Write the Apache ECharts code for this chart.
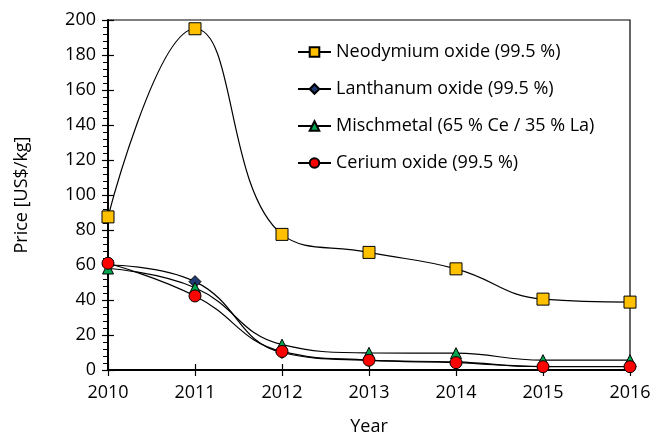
<!DOCTYPE html>
<html>
<head>
<meta charset="utf-8">
<script src="https://cdn.jsdelivr.net/npm/echarts@6/dist/echarts.min.js"></script>
<style>
  html, body { margin: 0; padding: 0; background: #fff; }
  #chart { width: 653px; height: 434px; }
</style>
</head>
<body>
<div id="chart"></div>
<script>
// values
var years = ['2010', '2011', '2012', '2013', '2014', '2015', '2016'];
var neodymium = [87.5, 195, 77.5, 67.2, 57.8, 40.5, 38.8];
var lanthanum = [60, 50.5, 10, 5.5, 4.6, 2, 2];
var mischmetal = [58, 47, 14.5, 9.8, 9.6, 5.6, 5.6];
var cerium = [61, 42.3, 10.6, 5.6, 4.2, 1.9, 1.9];

var FONT = '"Open Sans", "Noto Sans", sans-serif';
var chart = echarts.init(document.getElementById('chart'));

function mkSeries(name, data, symbol, color, size) {
    return {
        name: name,
        type: 'line',
        data: data,
        smooth: 0.45,
        symbol: symbol,
        symbolSize: size,
        lineStyle: { color: '#000', width: 1.2 },
        itemStyle: { color: color, borderColor: '#000', borderWidth: 1 },
        emphasis: { disabled: true }
    };
}

chart.setOption({
    animation: false,
    grid: {
        left: 108, right: 23, top: 20, bottom: 64,
        outerBoundsMode: 'none',
        show: true, borderColor: '#000', borderWidth: 1.2, backgroundColor: 'transparent'
    },
    legend: {
        orient: 'vertical',
        left: 292, top: 38,
        itemGap: 19,
        itemWidth: 33, itemHeight: 12,
        textStyle: { fontFamily: FONT, fontSize: 18, color: '#000' },
        data: ['Neodymium oxide (99.5 %)', 'Lanthanum oxide (99.5 %)',
               'Mischmetal (65 % Ce / 35 % La)', 'Cerium oxide (99.5 %)']
    },
    xAxis: [{
        type: 'category',
        data: years,
        boundaryGap: false,
        name: 'Year',
        nameLocation: 'middle',
        nameGap: 48,
        nameTextStyle: { fontFamily: FONT, fontSize: 18, color: '#000' },
        axisLine: { lineStyle: { color: '#000', width: 2 } },
        axisTick: { alignWithLabel: true, length: 6, lineStyle: { color: '#000', width: 1.2 } },
        axisLabel: { fontFamily: FONT, fontSize: 18, color: '#000', margin: 14 },
        splitLine: { show: false }
    }, {
        type: 'category',
        data: years,
        boundaryGap: false,
        position: 'bottom',
        axisLine: { show: false },
        axisTick: { inside: true, length: 6, lineStyle: { color: '#000', width: 1.2 } },
        axisLabel: { show: false },
        splitLine: { show: false }
    }],
    yAxis: [{
        type: 'value',
        min: 0, max: 200, interval: 20,
        name: 'Price [US$/kg]',
        nameLocation: 'middle',
        nameGap: 77,
        nameTextStyle: { fontFamily: FONT, fontSize: 18, color: '#000' },
        axisLine: { show: true, lineStyle: { color: '#000', width: 2 } },
        axisTick: { show: true, length: 6, lineStyle: { color: '#000', width: 1.2 } },
        minorTick: { show: true, splitNumber: 5, length: 5, lineStyle: { color: '#000', width: 1 } },
        axisLabel: { fontFamily: FONT, fontSize: 18, color: '#000', margin: 12 },
        splitLine: { show: false }
    }, {
        type: 'value',
        min: 0, max: 200, interval: 20,
        position: 'left',
        axisLine: { show: false },
        axisTick: { show: true, inside: true, length: 6, lineStyle: { color: '#000', width: 1.2 } },
        axisLabel: { show: false },
        splitLine: { show: false }
    }],
    series: [
        mkSeries('Neodymium oxide (99.5 %)', neodymium, 'rect', '#FFC000', 12),
        mkSeries('Lanthanum oxide (99.5 %)', lanthanum, 'diamond', '#1F3A73', 12),
        mkSeries('Mischmetal (65 % Ce / 35 % La)', mischmetal, 'triangle', '#00A550', 11),
        mkSeries('Cerium oxide (99.5 %)', cerium, 'circle', '#FF0000', 12)
    ]
});
</script>
</body>
</html>
